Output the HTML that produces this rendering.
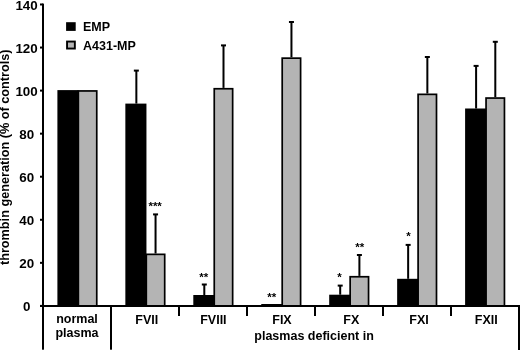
<!DOCTYPE html>
<html><head><meta charset="utf-8"><style>
html,body{margin:0;padding:0;background:#fff;width:520px;height:351px;overflow:hidden}
svg{display:block;will-change:transform}
text{font-family:"Liberation Sans",sans-serif;font-weight:bold;fill:#000}
</style></head><body>
<svg width="520" height="351" viewBox="0 0 520 351">
<rect width="520" height="351" fill="#fff"/>
<rect x="78.35" y="90.95" width="18.40" height="215.05" fill="#b4b4b4" stroke="#000" stroke-width="1.7"/>
<rect x="57.40" y="90.10" width="21.10" height="215.90" fill="#000"/>
<rect x="146.30" y="254.35" width="18.40" height="51.65" fill="#b4b4b4" stroke="#000" stroke-width="1.7"/>
<rect x="125.35" y="103.60" width="21.10" height="202.40" fill="#000"/>
<rect x="135.35" y="70.60" width="2.00" height="33.00" fill="#000"/>
<rect x="133.85" y="69.60" width="5.00" height="2.00" fill="#000"/>
<rect x="154.55" y="214.40" width="2.00" height="39.10" fill="#000"/>
<rect x="153.05" y="213.40" width="5.00" height="2.00" fill="#000"/>
<rect x="214.25" y="88.75" width="18.40" height="217.25" fill="#b4b4b4" stroke="#000" stroke-width="1.7"/>
<rect x="193.30" y="295.00" width="21.10" height="11.00" fill="#000"/>
<rect x="203.30" y="284.50" width="2.00" height="10.50" fill="#000"/>
<rect x="201.80" y="283.50" width="5.00" height="2.00" fill="#000"/>
<rect x="222.50" y="45.40" width="2.00" height="42.50" fill="#000"/>
<rect x="221.00" y="44.40" width="5.00" height="2.00" fill="#000"/>
<rect x="282.20" y="58.15" width="18.40" height="247.85" fill="#b4b4b4" stroke="#000" stroke-width="1.7"/>
<rect x="261.25" y="304.00" width="21.10" height="2.00" fill="#000"/>
<rect x="290.45" y="22.00" width="2.00" height="35.30" fill="#000"/>
<rect x="288.95" y="21.00" width="5.00" height="2.00" fill="#000"/>
<rect x="350.15" y="276.75" width="18.40" height="29.25" fill="#b4b4b4" stroke="#000" stroke-width="1.7"/>
<rect x="329.20" y="294.70" width="21.10" height="11.30" fill="#000"/>
<rect x="339.20" y="285.60" width="2.00" height="9.10" fill="#000"/>
<rect x="337.70" y="284.60" width="5.00" height="2.00" fill="#000"/>
<rect x="358.40" y="255.00" width="2.00" height="20.90" fill="#000"/>
<rect x="356.90" y="254.00" width="5.00" height="2.00" fill="#000"/>
<rect x="418.10" y="94.35" width="18.40" height="211.65" fill="#b4b4b4" stroke="#000" stroke-width="1.7"/>
<rect x="397.15" y="278.80" width="21.10" height="27.20" fill="#000"/>
<rect x="407.15" y="244.90" width="2.00" height="33.90" fill="#000"/>
<rect x="405.65" y="243.90" width="5.00" height="2.00" fill="#000"/>
<rect x="426.35" y="57.00" width="2.00" height="36.50" fill="#000"/>
<rect x="424.85" y="56.00" width="5.00" height="2.00" fill="#000"/>
<rect x="486.05" y="98.05" width="18.40" height="207.95" fill="#b4b4b4" stroke="#000" stroke-width="1.7"/>
<rect x="465.10" y="108.50" width="21.10" height="197.50" fill="#000"/>
<rect x="475.10" y="65.90" width="2.00" height="42.60" fill="#000"/>
<rect x="473.60" y="64.90" width="5.00" height="2.00" fill="#000"/>
<rect x="494.30" y="41.80" width="2.00" height="55.40" fill="#000"/>
<rect x="492.80" y="40.80" width="5.00" height="2.00" fill="#000"/>
<rect x="42.00" y="3.60" width="2.00" height="346.10" fill="#000"/>
<rect x="40.00" y="305.00" width="480.00" height="2.00" fill="#000"/>
<rect x="40.00" y="304.90" width="3.00" height="2.00" fill="#000"/>
<rect x="40.00" y="261.84" width="3.00" height="2.00" fill="#000"/>
<rect x="40.00" y="218.78" width="3.00" height="2.00" fill="#000"/>
<rect x="40.00" y="175.72" width="3.00" height="2.00" fill="#000"/>
<rect x="40.00" y="132.66" width="3.00" height="2.00" fill="#000"/>
<rect x="40.00" y="89.60" width="3.00" height="2.00" fill="#000"/>
<rect x="40.00" y="46.54" width="3.00" height="2.00" fill="#000"/>
<rect x="40.00" y="3.48" width="3.00" height="2.00" fill="#000"/>
<rect x="110.00" y="306.00" width="2.00" height="43.70" fill="#000"/>
<rect x="518.00" y="306.00" width="2.00" height="44.00" fill="#000"/>
<rect x="178.00" y="306.00" width="2.00" height="10.00" fill="#000"/>
<rect x="246.00" y="306.00" width="2.00" height="10.00" fill="#000"/>
<rect x="314.00" y="306.00" width="2.00" height="10.00" fill="#000"/>
<rect x="382.00" y="306.00" width="2.00" height="10.00" fill="#000"/>
<rect x="450.00" y="306.00" width="2.00" height="10.00" fill="#000"/>
<rect x="66.10" y="22.20" width="9.60" height="8.70" fill="#000"/>
<rect x="67.05" y="41.55" width="7.8" height="7.0" fill="#b4b4b4" stroke="#000" stroke-width="1.9"/>
<text x="83" y="31.2" font-size="12.5" text-anchor="start" >EMP</text>
<text x="83" y="49.7" font-size="12.5" text-anchor="start" >A431-MP</text>
<text x="26.8" y="311.0" font-size="13.4" text-anchor="middle" >0</text>
<text x="26.8" y="267.94" font-size="13.4" text-anchor="middle" >20</text>
<text x="26.8" y="224.87999999999997" font-size="13.4" text-anchor="middle" >40</text>
<text x="26.8" y="181.81999999999996" font-size="13.4" text-anchor="middle" >60</text>
<text x="26.8" y="138.75999999999996" font-size="13.4" text-anchor="middle" >80</text>
<text x="26.6" y="95.69999999999996" font-size="13.4" text-anchor="middle" >100</text>
<text x="26.6" y="52.639999999999965" font-size="13.4" text-anchor="middle" >120</text>
<text x="26.6" y="9.579999999999961" font-size="13.4" text-anchor="middle" >140</text>
<text x="0" y="0" font-size="12.7" text-anchor="middle" transform="translate(8.7,157.25) rotate(-90)">thrombin generation (% of controls)</text>
<text x="77" y="323.0" font-size="12.5" text-anchor="middle" >normal</text>
<text x="77" y="337.4" font-size="12.5" text-anchor="middle" >plasma</text>
<text x="146.8" y="323.8" font-size="12.5" text-anchor="middle" >FVII</text>
<text x="213.4" y="323.8" font-size="12.5" text-anchor="middle" >FVIII</text>
<text x="282.0" y="323.8" font-size="12.5" text-anchor="middle" >FIX</text>
<text x="351.3" y="323.8" font-size="12.5" text-anchor="middle" >FX</text>
<text x="419.0" y="323.8" font-size="12.5" text-anchor="middle" >FXI</text>
<text x="486.3" y="323.8" font-size="12.5" text-anchor="middle" >FXII</text>
<text x="254.3" y="339.6" font-size="12.5" text-anchor="start" >plasmas deficient in</text>
<text x="155.15" y="209.9" font-size="11.5" text-anchor="middle" >***</text>
<text x="203.8" y="281.35" font-size="11.5" text-anchor="middle" >**</text>
<text x="271.85" y="301.4" font-size="11.5" text-anchor="middle" >**</text>
<text x="339.5" y="280.7" font-size="11.5" text-anchor="middle" >*</text>
<text x="359.7" y="251.05" font-size="11.5" text-anchor="middle" >**</text>
<text x="408.4" y="240.1" font-size="11.5" text-anchor="middle" >*</text>
</svg>
</body></html>
